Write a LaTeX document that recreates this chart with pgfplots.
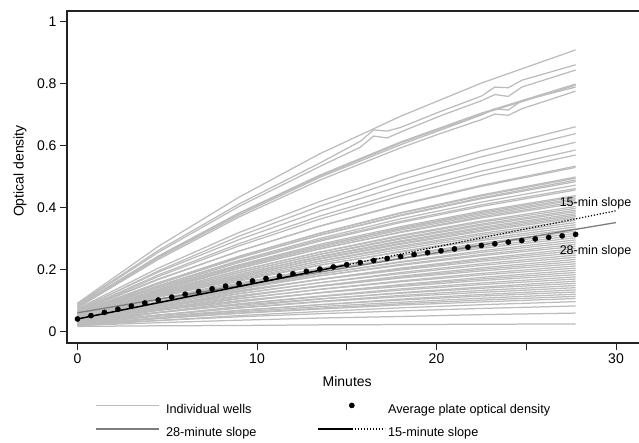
\documentclass[border=0pt]{standalone}
\usepackage{pgfplots}
\pgfplotsset{compat=1.18}
\usepackage{fontspec}
\setmainfont{Liberation Sans}

\definecolor{wellgray}{RGB}{188,188,188}
\definecolor{slopegray}{RGB}{125,125,125}
\definecolor{axisgray}{RGB}{35,35,35}

% one well: OD read at 0, 4.5, 9, 13.5, 18, 22.5 and 27.75 min
\newcommand\well[7]{\addplot[wellgray, line width=1.25pt, forget plot]
    coordinates {(0,#1) (4.5,#2) (9,#3) (13.5,#4) (18,#5) (22.5,#6) (27.75,#7)};}

\begin{document}
\begin{tikzpicture}
\begin{axis}[
    at={(0pt,0pt)}, anchor=south west,
    scale only axis, width=584.9pt, height=332pt,
    xmin=-0.585, xmax=32, ymin=-0.0355, ymax=1.0355,
    axis line style={axisgray, line width=1.1pt},
    xtick={0,10,20,30}, xticklabels={0,10,20,30},
    minor xtick={5,15,25},
    ytick={0,0.2,0.4,0.6,0.8,1}, yticklabels={0,0.2,0.4,0.6,0.8,1},
    tick align=outside, xtick pos=left, ytick pos=left,
    major tick length=7pt, minor tick length=7pt,
    tick style={axisgray, line width=1pt},
    tick label style={font=\fontsize{14}{16}\selectfont},
    every axis y label/.style={at={(axis description cs:-0.0804,0.518)},
        rotate=90, anchor=center, font=\fontsize{14}{16}\selectfont},
    every axis x label/.style={at={(axis description cs:0.479,-0.1145)},
        anchor=center, font=\fontsize{14}{16}\selectfont},
    xlabel={Minutes}, ylabel={Optical density},
    legend columns=2,
    legend cell align=left,
    legend style={draw=none, fill=none, inner sep=0pt,
        at={(axis description cs:0.0479,-0.179)}, anchor=north west,
        font=\fontsize{12.7}{14}\selectfont, row sep=12pt,
        nodes={inner sep=0pt, text height=9pt, text depth=2.5pt}},
]
    % legend, in the order of the reference
    \addlegendimage{legend image code/.code={
        \draw[wellgray, line width=1.25pt] (0pt,4.5pt) -- (63pt,4.5pt);
        \path (0pt,0pt) (70pt,0pt);}}
    \addlegendentry{\makebox[151pt][l]{Individual wells}}
    \addlegendimage{legend image code/.code={
        \fill[black] (34pt,4.5pt) circle (2.6pt);
        \path (0pt,0pt) (70pt,0pt);}}
    \addlegendentry{Average plate optical density}
    \addlegendimage{legend image code/.code={
        \draw[slopegray, line width=1.3pt] (0pt,4.5pt) -- (63pt,4.5pt);
        \path (0pt,0pt) (70pt,0pt);}}
    \addlegendentry{\makebox[151pt][l]{28-minute slope}}
    \addlegendimage{legend image code/.code={
        \draw[black, line width=1.5pt] (0pt,4.5pt) -- (34pt,4.5pt);
        \draw[black, line width=1.2pt, dash pattern=on 1.2pt off 1.8pt]
            (34pt,4.5pt) -- (67pt,4.5pt);
        \path (0pt,0pt) (70pt,0pt);}}
    \addlegendentry{15-minute slope}

    % fastest wells
    \well{.093}{.276}{.435}{.575}{.696}{.803}{.910}
    \well{.085}{.245}{.384}{.506}{.613}{.706}{.800}
    \well{.083}{.242}{.382}{.503}{.610}{.703}{.796}
    % the four wells with a few jumps in them
    \addplot[wellgray, line width=1.25pt, forget plot] coordinates {
        (0,.090) (4.5,.263) (9,.413) (13.5,.545) (15.75,.615) (16.5,.652)
        (17.25,.648) (18,.660) (20.25,.712) (22.5,.761) (23.25,.790)
        (24,.788) (24.75,.812) (27.75,.862)};
    \addplot[wellgray, line width=1.25pt, forget plot] coordinates {
        (0,.088) (4.5,.257) (9,.405) (13.5,.534) (15.75,.596) (16.5,.632)
        (17.25,.626) (18,.645) (20.25,.698) (22.5,.746) (23.25,.766)
        (24,.760) (24.75,.790) (27.75,.845)};
    \addplot[wellgray, line width=1.25pt, forget plot] coordinates {
        (0,.080) (4.5,.239) (9,.377) (13.5,.499) (18,.604) (20.25,.652)
        (22.5,.700) (23.25,.720) (24,.716) (24.75,.746) (27.75,.790)};
    \addplot[wellgray, line width=1.25pt, forget plot] coordinates {
        (0,.078) (4.5,.234) (9,.371) (13.5,.490) (18,.594) (20.25,.641)
        (22.5,.685) (23.25,.703) (24,.699) (24.75,.720) (27.75,.777)};
    % middle wells
    \well{.075}{.206}{.321}{.421}{.509}{.585}{.662}
    \well{.070}{.197}{.309}{.406}{.491}{.565}{.640}
    \well{.072}{.193}{.298}{.390}{.471}{.541}{.612}
    \well{.068}{.184}{.285}{.374}{.451}{.519}{.587}
    \well{.066}{.179}{.278}{.364}{.439}{.505}{.571}
    \well{.064}{.169}{.261}{.342}{.412}{.473}{.535}
    \well{.067}{.171}{.261}{.341}{.410}{.470}{.531}
    \well{.060}{.158}{.244}{.319}{.385}{.442}{.500}
    \well{.062}{.159}{.244}{.318}{.383}{.439}{.496}
    \well{.058}{.155}{.239}{.313}{.377}{.433}{.490}
    \well{.063}{.157}{.240}{.312}{.375}{.430}{.485}
    \well{.056}{.149}{.231}{.302}{.365}{.419}{.474}
    \well{.059}{.149}{.228}{.297}{.357}{.410}{.463}
    \well{.055}{.145}{.224}{.293}{.353}{.405}{.458}
    \well{.057}{.143}{.217}{.283}{.340}{.390}{.440}
    \well{.052}{.138}{.213}{.278}{.336}{.386}{.436}
    \well{.060}{.143}{.215}{.278}{.333}{.382}{.430}
    \well{.054}{.137}{.210}{.273}{.329}{.377}{.426}
    \well{.050}{.133}{.205}{.268}{.323}{.372}{.420}
    \well{.056}{.136}{.206}{.268}{.321}{.368}{.415}
    \well{.048}{.128}{.198}{.258}{.312}{.358}{.405}
    \well{.053}{.130}{.198}{.257}{.309}{.354}{.399}
    \well{.047}{.124}{.192}{.251}{.303}{.348}{.393}
    \well{.051}{.126}{.192}{.250}{.300}{.344}{.388}
    \well{.045}{.120}{.186}{.244}{.294}{.338}{.382}
    \well{.049}{.122}{.186}{.242}{.291}{.334}{.377}
    \well{.044}{.117}{.181}{.237}{.286}{.329}{.372}
    \well{.046}{.118}{.180}{.235}{.283}{.325}{.367}
    \well{.042}{.113}{.175}{.229}{.277}{.318}{.360}
    \well{.048}{.116}{.176}{.228}{.273}{.313}{.353}
    % the dense band of slow wells
    \well{.045}{.112}{.171}{.222}{.267}{.307}{.346}
    \well{.038}{.105}{.164}{.215}{.260}{.300}{.339}
    \well{.050}{.113}{.168}{.216}{.258}{.295}{.332}
    \well{.032}{.098}{.155}{.205}{.248}{.287}{.325}
    \well{.042}{.104}{.158}{.205}{.246}{.282}{.318}
    \well{.036}{.098}{.151}{.198}{.239}{.275}{.311}
    \well{.048}{.105}{.155}{.199}{.237}{.270}{.304}
    \well{.030}{.090}{.142}{.187}{.227}{.262}{.297}
    \well{.040}{.096}{.145}{.187}{.225}{.257}{.290}
    \well{.034}{.090}{.138}{.181}{.218}{.250}{.283}
    \well{.044}{.096}{.141}{.181}{.215}{.246}{.276}
    \well{.028}{.082}{.129}{.170}{.206}{.237}{.269}
    \well{.038}{.088}{.132}{.170}{.203}{.233}{.262}
    \well{.046}{.093}{.134}{.169}{.200}{.228}{.255}
    \well{.032}{.080}{.123}{.159}{.192}{.220}{.248}
    \well{.040}{.085}{.124}{.159}{.188}{.215}{.241}
    \well{.026}{.073}{.113}{.149}{.180}{.207}{.234}
    \well{.036}{.079}{.116}{.149}{.177}{.202}{.227}
    \well{.042}{.082}{.117}{.147}{.174}{.197}{.220}
    \well{.030}{.071}{.107}{.138}{.165}{.189}{.213}
    \well{.038}{.076}{.108}{.137}{.162}{.184}{.206}
    \well{.024}{.063}{.097}{.127}{.153}{.176}{.199}
    \well{.034}{.069}{.100}{.127}{.151}{.171}{.192}
    \well{.040}{.072}{.101}{.126}{.147}{.166}{.185}
    \well{.028}{.062}{.091}{.116}{.139}{.158}{.178}
    \well{.032}{.063}{.090}{.114}{.135}{.153}{.171}
    \well{.022}{.054}{.082}{.106}{.127}{.145}{.164}
    \well{.036}{.063}{.087}{.107}{.125}{.141}{.157}
    \well{.026}{.054}{.078}{.099}{.118}{.134}{.150}
    \well{.030}{.055}{.077}{.097}{.114}{.128}{.143}
    \well{.020}{.046}{.069}{.088}{.106}{.121}{.136}
    \well{.028}{.051}{.070}{.088}{.103}{.116}{.129}
    \well{.024}{.046}{.065}{.082}{.096}{.109}{.122}
    \well{.022}{.043}{.061}{.077}{.091}{.103}{.115}
    \well{.026}{.044}{.060}{.074}{.087}{.097}{.108}
    \well{.020}{.037}{.053}{.066}{.078}{.088}{.098}
    % almost flat wells at the bottom
    \well{.024}{.037}{.049}{.059}{.068}{.076}{.084}
    \well{.021}{.030}{.038}{.045}{.050}{.056}{.061}
    \well{.018}{.020}{.021}{.023}{.024}{.025}{.026}

    % 28-minute slope
    \addplot[slopegray, line width=1.3pt, forget plot]
        coordinates {(0,.062) (30,.353)};
    % 15-minute slope, solid where it was fitted, dotted beyond
    \addplot[black, line width=1.5pt, forget plot]
        coordinates {(0,.042) (15,.2165)};
    \addplot[black, line width=1.2pt, dash pattern=on 1.2pt off 1.8pt,
        forget plot] coordinates {(15,.2165) (30,.391)};
    % plate average, one reading every 45 s
    \addplot[only marks, mark=*, mark size=2.6pt, black, forget plot]
        coordinates {
        (0,.0420) (0.75,.0528) (1.5,.0632) (2.25,.0735) (3,.0836)
        (3.75,.0934) (4.5,.1030) (5.25,.1124) (6,.1216) (6.75,.1305)
        (7.5,.1393) (8.25,.1479) (9,.1563) (9.75,.1645) (10.5,.1725)
        (11.25,.1804) (12,.1880) (12.75,.1955) (13.5,.2029) (14.25,.2100)
        (15,.2170) (15.75,.2239) (16.5,.2306) (17.25,.2371) (18,.2435)
        (18.75,.2498) (19.5,.2559) (20.25,.2619) (21,.2678) (21.75,.2735)
        (22.5,.2791) (23.25,.2846) (24,.2899) (24.75,.2951) (25.5,.3002)
        (26.25,.3052) (27,.3101) (27.75,.3149)};

    \node[font=\fontsize{12.5}{14}\selectfont] at (axis cs:28.86,.416)
        {15-min slope};
    \node[font=\fontsize{12.5}{14}\selectfont] at (axis cs:28.86,.261)
        {28-min slope};
\end{axis}
\pgfresetboundingbox
\path (-67pt,-100pt) rectangle (572pt,343pt);
\end{tikzpicture}
\end{document}
